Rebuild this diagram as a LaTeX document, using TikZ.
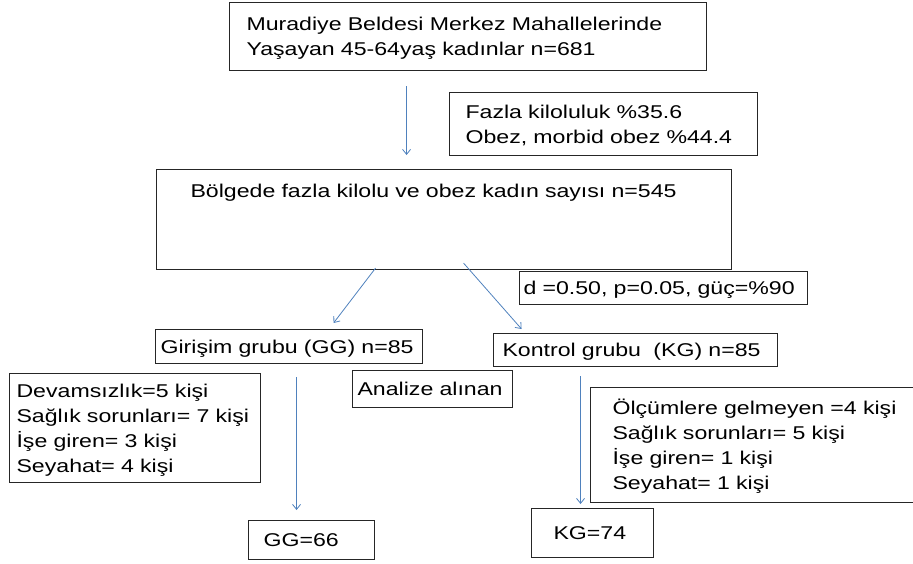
\documentclass[tikz,border=0pt]{standalone}
\usepackage{fontspec}
\setmainfont{Liberation Sans}[FakeStretch=1.25]
\usetikzlibrary{arrows.meta,calc}
\definecolor{okmavi}{RGB}{79,129,189}
\begin{document}
\begin{tikzpicture}[x=1pt,y=-1pt,
        kutu/.style={draw=black!85, line width=1.1pt, anchor=north west, align=left,
            inner ysep=2pt, text height=13pt, text depth=0pt, font=\fontsize{18.5}{25}\selectfont},
        ok/.style={draw=okmavi, line width=0.8pt, -{Straight Barb[length=5pt,width=8pt]}}]
            \useasboundingbox (0,0) rectangle (913,563);
            \path (229,2) node [kutu, inner xsep=17pt, text width=443pt, minimum height=68pt,
                text depth=25pt] (nufus)
                {Muradiye Beldesi Merkez Mahallelerinde\\Yaşayan 45-64yaş kadınlar n=681};
            \path (449,92) node [kutu, inner xsep=16pt, text width=276pt, minimum height=63pt,
                text depth=25pt] (oran)
                {Fazla kiloluluk \%35.6\\Obez, morbid obez \%44.4};
            \path (156,169) node [kutu, inner xsep=34pt, text width=507pt, inner ysep=15pt,
                text depth=57pt] (bolge)
                {Bölgede fazla kilolu ve obez kadın sayısı n=545};
            \path (519,271) node [kutu, inner xsep=4pt, text width=280pt, minimum height=33pt] (guc)
                {d =0.50, p=0.05, güç=\%90};

            \path (155,329) node [kutu, inner xsep=5pt, text width=257pt, minimum height=34pt] (girisim)
                {Girişim grubu (GG) n=85};
            \path (493,333) node [kutu, inner xsep=9pt, text width=266pt, minimum height=33pt] (kontrol)
                {Kontrol grubu\ \ (KG) n=85};

            \path (9,373) node [kutu, inner xsep=7pt, text width=237pt, minimum height=109pt,
                text depth=75pt] (kayipgg)
                {Devamsızlık=5 kişi\\Sağlık sorunları= 7 kişi\\İşe giren= 3 kişi\\Seyahat= 4 kişi};
            \path (352,370) node [kutu, inner xsep=5pt, text width=150pt, minimum height=37pt] (analiz)
                {Analize alınan};
            \path (590,387) node [kutu, inner xsep=22pt, text width=296pt, minimum height=115pt,
                text depth=75pt] (kayipkg)
                {Ölçümlere gelmeyen =4 kişi\\Sağlık sorunları= 5 kişi\\İşe giren= 1 kişi\\Seyahat= 1 kişi};

            \path (248,520) node [kutu, inner xsep=15pt, text width=96pt, minimum height=39pt] (gg)
                {GG=66};
            \path (531,508) node [kutu, inner xsep=22pt, text width=78pt, minimum height=49pt] (kg)
                {KG=74};

            \draw [ok] ($(nufus.south)+(-61.5,15)$) -- ($(bolge.north)+(-37.5,-14)$);
            \draw [ok] ($(bolge.south)+(-68.5,-2)$) -- ($(girisim.north)+(44.5,-6)$);
            \draw [ok] ($(bolge.south)+(19.5,-7)$) -- ($(kontrol.north)+(-114,-4)$);
            \draw [ok] ($(girisim.south)+(7.5,13)$) -- ($(gg.north)+(-15,-10)$);
            \draw [ok] ($(kontrol.south)+(-55,9)$) -- ($(kg.north)+(-12,-4)$);
\end{tikzpicture}
\end{document}
